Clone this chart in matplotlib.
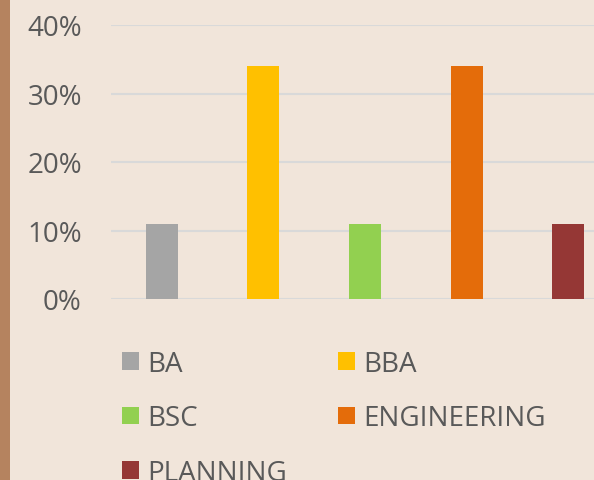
import matplotlib.pyplot as plt
from matplotlib.patches import Rectangle
from matplotlib.ticker import PercentFormatter

# data
categories = ['BA', 'BBA', 'BSC', 'ENGINEERING', 'PLANNING']
shares = [0.11, 0.34, 0.11, 0.34, 0.11]
colors = ['#A5A5A5', '#FFC000', '#92D050', '#E46C0A', '#953735']
y_ticks = [0, 0.1, 0.2, 0.3, 0.4]

bg = '#F1E5DA'
text_col = '#595959'
plt.rcParams['font.family'] = ['Open Sans', 'DejaVu Sans']

fig = plt.figure(figsize=(5.94, 4.81), dpi=100, facecolor=bg)
# brown strip on the left edge
fig.patches.append(Rectangle((0, 0), 10 / 594, 1, transform=fig.transFigure,
                             facecolor='#B5835F', edgecolor='none'))

# axes run past the right edge (chart is cropped)
ax = fig.add_axes([111 / 594, 181 / 481, 508 / 594, 274 / 481])
ax.set_facecolor(bg)

x = range(len(categories))
bars = ax.bar(x, shares, width=0.315, color=colors, zorder=3)

ax.set_xlim(-0.5, len(categories) - 0.5)
ax.set_ylim(0, 0.4)
ax.set_yticks(y_ticks)
ax.yaxis.set_major_formatter(PercentFormatter(1.0, decimals=0))
ax.set_xticks([])
ax.tick_params(axis='y', length=0, pad=21, labelsize=20, labelcolor=text_col)
ax.grid(axis='y', color='#D9D9D9', linewidth=1.5, zorder=0)
for s in ax.spines.values():
    s.set_visible(False)

# legend, row-wise order with 2 columns
order = [0, 2, 4, 1, 3]
leg = fig.legend([bars[i] for i in order], [categories[i] for i in order],
                 ncol=2, loc='upper left', bbox_to_anchor=(122 / 594, 1 - 351 / 481),
                 frameon=False, fontsize=20, labelcolor=text_col,
                 handlelength=0.6, handleheight=0.6, handletextpad=0.3,
                 columnspacing=1.85, labelspacing=0.95, borderaxespad=0,
                 borderpad=0)

fig.savefig('out.png', dpi=100, facecolor=bg)
